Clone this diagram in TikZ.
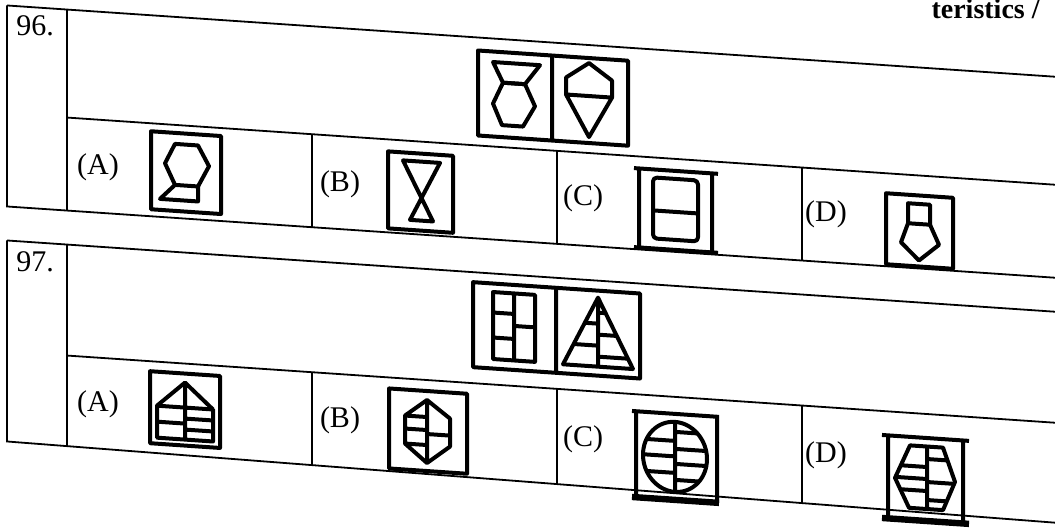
\documentclass[tikz,border=0pt]{standalone}
\usepackage{fontspec}
\setmainfont{Liberation Serif}

\begin{document}
\begin{tikzpicture}[x=0.5pt,y=-0.5pt,
  tbl/.style={line width=0.9pt},
  fig/.style={line width=2pt,line join=round},
  heavy/.style={line width=3.2pt},
  lbl/.style={font=\fontsize{15}{18}\selectfont,inner sep=0pt}]
  \useasboundingbox (0,0) rectangle (1055,529);
  \node[lbl,font=\fontsize{14}{16}\selectfont\bfseries,anchor=base east] (cut) at (1040,19) {teristics /};
  \begin{scope}[yslant=-0.068]
  \draw[tbl] (7,5) -- (1060,5) (7,5) -- (7,206) -- (1060,206) (67,5) -- (67,206) (67,113) -- (1060,113)
    (312,113) -- (312,206) (557,113) -- (557,206) (802,113) -- (802,206);
  \draw[tbl] (7,240) -- (1060,240) (7,240) -- (7,441) -- (1060,451) (67,240) -- (67,441.5) (67,351) -- (1060,351)
    (312,351) -- (312,443.5) (557,351) -- (557,446) (802,351) -- (802,448.5);
  \node[lbl] (q96) at (35,23) {96.};
  \node[lbl] (q97) at (35,259) {97.};
  \node[lbl] (a96) at (98,161) {(A)};
  \node[lbl] (b96) at (340,161) {(B)};
  \node[lbl] (c96) at (583,159) {(C)};
  \node[lbl] (d96) at (826,158) {(D)};
  \node[lbl] (a97) at (98,398) {(A)};
  \node[lbl] (b97) at (340,397) {(B)};
  \node[lbl] (c97) at (583,400) {(C)};
  \node[lbl] (d97) at (826,399) {(D)};

  \draw[fig] (478,18) rectangle (628,103) (552,18) -- (552,103);
  \draw[fig] (493,28.5) -- (540,28.5) -- (525,48.5) -- (503,48.5) -- cycle;
  \draw[fig] (503,48.5) -- (525,48.5) -- (535,70) -- (523,91) -- (502,91) -- (493,70) -- cycle;
  \draw[fig] (589,23) -- (612,39) -- (612,56) -- (589,97) -- (566,56) -- (566,39) -- cycle (566,56) -- (612,56);

  \draw[fig] (151,121) rectangle (221,199);
  \draw[fig] (175,132) -- (198,132) -- (209,152) -- (198,173) -- (175,173) -- (165,152) -- cycle;
  \draw[fig] (175,173) -- (160,188) -- (198,188) -- (198,173);

  \draw[fig] (388,125) rectangle (453,202);
  \draw[fig] (403,133) -- (440,133) -- (410,192) -- (433,192) -- cycle;

  \draw[fig] (634,125) -- (718,125) (634,204) -- (718,204) (639,125) -- (639,204) (712,125) -- (712,204);
  \draw[fig,rounded corners=2pt] (653,133) rectangle (698,194);
  \draw[fig] (653,166) -- (698,166);

  \draw[fig] (886,133) rectangle (953,204);
  \draw[fig] (908,141.5) rectangle (930,161.5);
  \draw[fig] (908,161.5) -- (901,181) -- (919,198) -- (939,181) -- (930,161.5);

  \draw[fig] (473,250) rectangle (640,335) (556,250) -- (556,335);
  \draw[fig] (493,258.5) rectangle (535,325.5) (514,258.5) -- (514,325.5)
    (493,279) -- (514,279) (493,304) -- (514,304) (514,291) -- (535,291);
  \begin{scope}
    \clip (598,257) -- (563,326) -- (633,326) -- cycle;
    \draw[fig] (560,283) -- (598,283) (560,305) -- (598,305)
      (598,272) -- (640,272) (598,294) -- (640,294) (598,316) -- (640,316);
  \end{scope}
  \draw[fig] (598,257) -- (563,326) -- (633,326) -- cycle (598,257) -- (598,326);

  \draw[fig] (150,361) rectangle (220,433);
  \draw[fig] (157,395) -- (185,370) -- (213,395) (157,395) rectangle (213,427) (185,370) -- (185,427)
    (157,411) -- (185,411) (185,406) -- (213,406) (185,417) -- (213,417);

  \draw[fig] (389,362) rectangle (467,442);
  \draw[fig] (427,371) -- (450,388) -- (450,416) -- (427,434) -- (405,416) -- (405,388) -- cycle
    (427,371) -- (427,434) (405,388) -- (427,388) (405,401) -- (427,401) (405,416) -- (427,416)
    (427,405) -- (450,405);

  \draw[fig] (632,368) -- (719,368) (636,368) -- (636,454) (717,368) -- (717,454);
  \draw[heavy] (632,454) -- (719,454);
  \begin{scope}
    \clip (675,411) ellipse [x radius=32,y radius=35];
    \draw[fig] (640,395) -- (675,395) (640,410.5) -- (675,410.5) (640,427) -- (675,427)
      (675,386) -- (710,386) (675,403) -- (710,403) (675,418) -- (710,418) (675,434) -- (710,434)
      (675,370) -- (675,450);
  \end{scope}
  \draw[fig] (675,411) ellipse [x radius=32,y radius=35];

  \draw[fig] (882,375) -- (969,375) (888,375) -- (888,458) (963,375) -- (963,458);
  \draw[heavy] (882,458) -- (969,458);
  \begin{scope}
    \clip (910,383.5) -- (943,383.5) -- (955,417) -- (943,446) -- (909,446) -- (895,417) -- cycle;
    \draw[fig] (890,404) -- (927,404) (890,416) -- (927,416) (890,428) -- (927,428)
      (927,396) -- (960,396) (927,419) -- (960,419) (927,437) -- (960,437);
  \end{scope}
  \draw[fig] (910,383.5) -- (943,383.5) -- (955,417) -- (943,446) -- (909,446) -- (895,417) -- cycle
    (927,383.5) -- (927,446);
  \end{scope}
\end{tikzpicture}
\end{document}
